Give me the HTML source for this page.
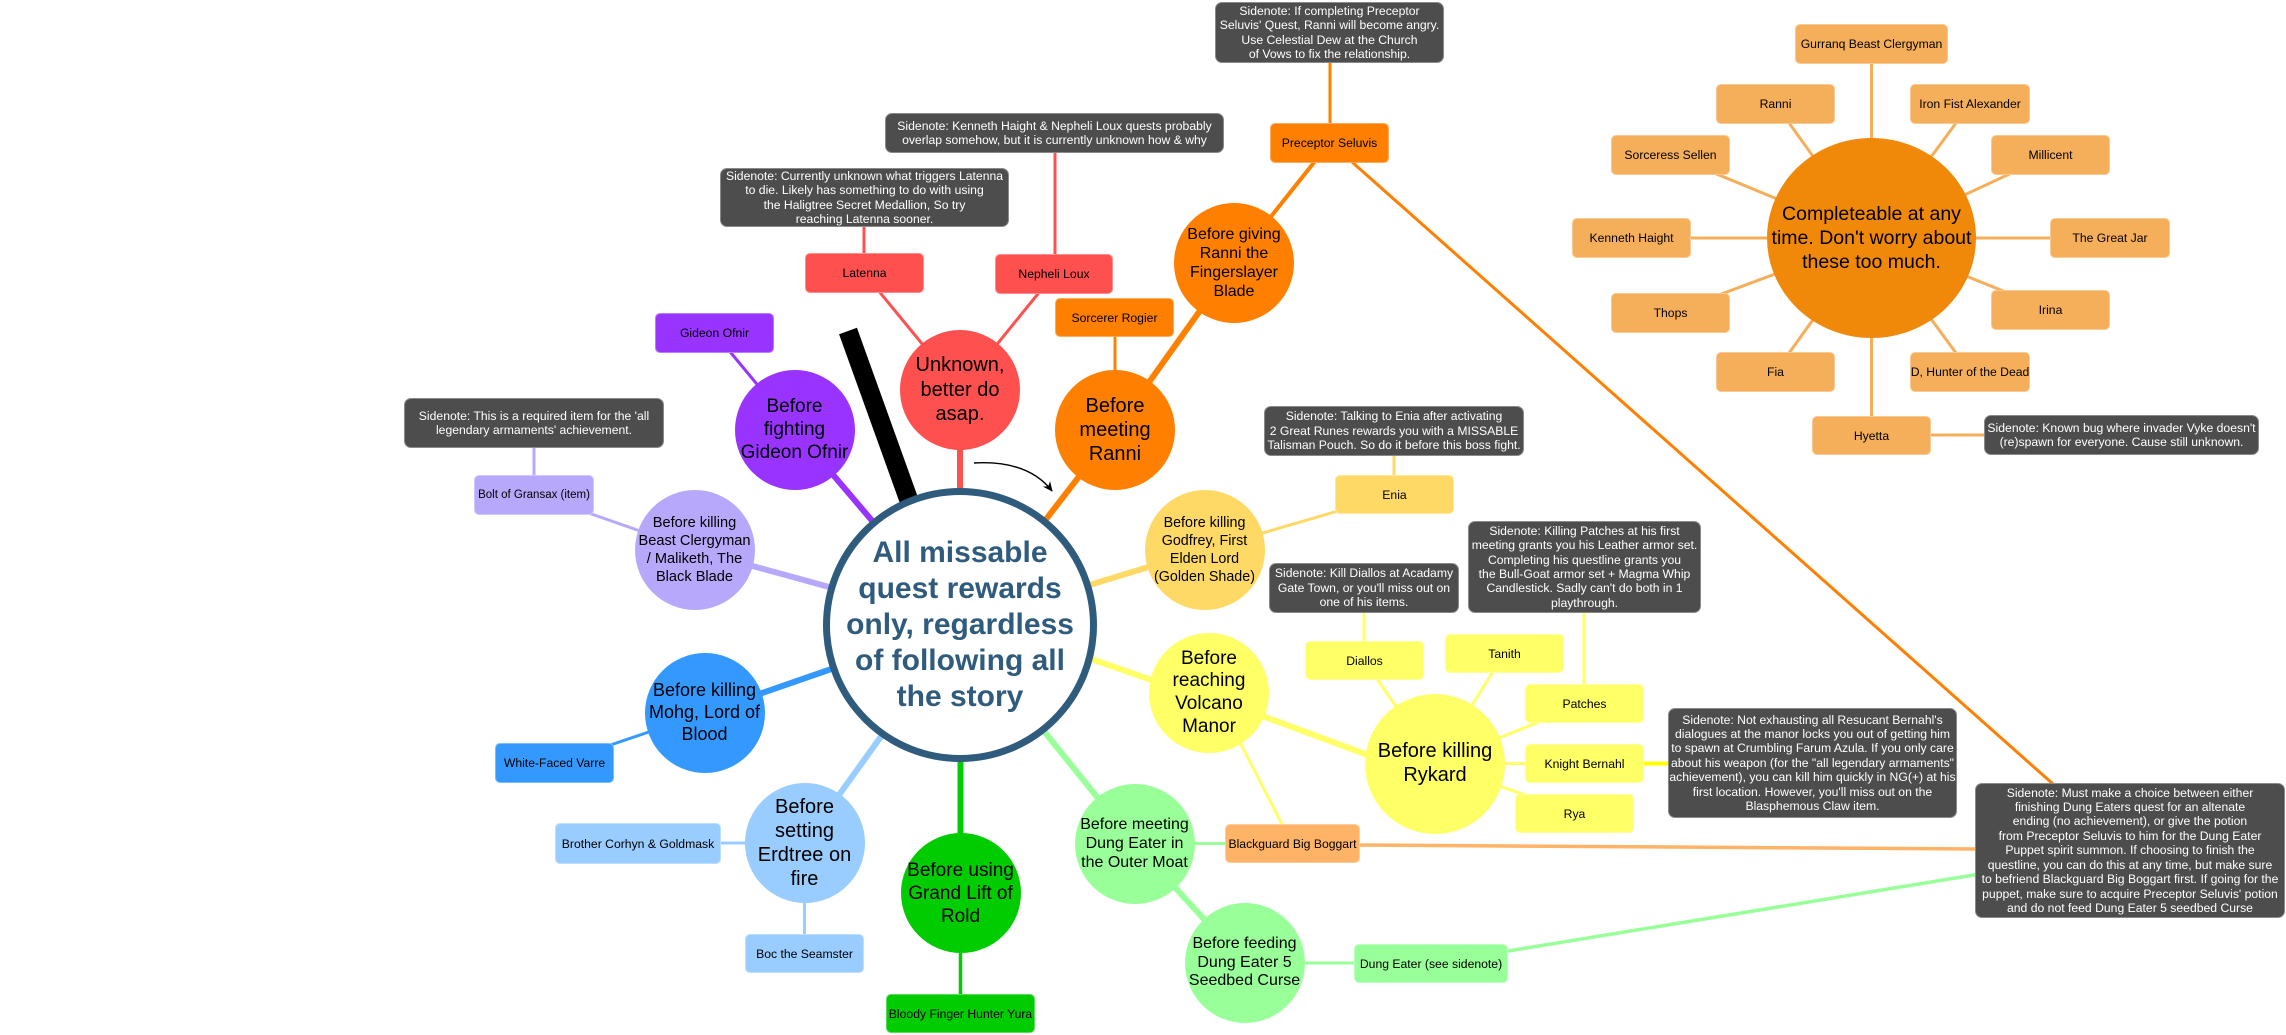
<!DOCTYPE html>
<html>
<head>
<meta charset="utf-8">
<style>
html,body{margin:0;padding:0;background:#fff;}
body{width:2286px;height:1035px;position:relative;overflow:hidden;font-family:"Liberation Sans",Arial,sans-serif;}
svg.lines{position:absolute;left:0;top:0;}
.c{position:absolute;border-radius:50%;display:flex;align-items:center;justify-content:center;text-align:center;color:#000;white-space:nowrap;box-sizing:border-box;}
.b{position:absolute;border-radius:5px;display:flex;align-items:center;justify-content:center;text-align:center;color:#000;font-size:12.2px;white-space:nowrap;box-sizing:border-box;border:1px solid rgba(255,255,255,0.35);}
.s{position:absolute;border-radius:7px;display:flex;align-items:center;justify-content:center;text-align:center;color:#fff;font-size:12.2px;line-height:14.4px;white-space:nowrap;background:#4d4d4d;border:1px solid #8a8a8a;box-sizing:border-box;}
.red{background:#ff5050;}
.org{background:#ff8000;}
.pur{background:#9933ff;}
.lav{background:#b8a8fc;}
.blu{background:#3399ff;}
.lbl{background:#99ccff;}
.grn{background:#00cc00;}
.lgr{background:#99ff99;}
.yel{background:#ffff66;}
.gld{background:#ffd966;}
.bog{background:#ffb366;}
.sat{background:#f5ae5a;}
</style>
</head>
<body>
<svg class="lines" width="2286" height="1035" viewBox="0 0 2286 1035">
<defs>
<marker id="ah" markerWidth="12" markerHeight="12" refX="9" refY="6" orient="auto" markerUnits="userSpaceOnUse">
<path d="M0,1.5 L10,6 L0,10.5 L3,6 z" fill="#000"/>
</marker>
</defs>
<g stroke-linecap="butt" fill="none">
<!-- red -->
<line x1="960" y1="390" x2="960" y2="500" stroke="#ff5050" stroke-width="6"/>
<line x1="864" y1="273" x2="960" y2="390" stroke="#ff5050" stroke-width="3"/>
<line x1="1054" y1="274" x2="960" y2="390" stroke="#ff5050" stroke-width="3"/>
<line x1="864" y1="227" x2="864" y2="253" stroke="#ff5050" stroke-width="3"/>
<line x1="1055" y1="153" x2="1055" y2="256" stroke="#ff5050" stroke-width="3"/>
<!-- orange -->
<line x1="1115" y1="430" x2="1030" y2="540" stroke="#ff8000" stroke-width="6"/>
<line x1="1115" y1="430" x2="1234" y2="263" stroke="#ff8000" stroke-width="6"/>
<line x1="1115" y1="330" x2="1115" y2="372" stroke="#ff8000" stroke-width="3"/>
<line x1="1234" y1="263" x2="1329.5" y2="143" stroke="#ff8000" stroke-width="4"/>
<line x1="1330" y1="63" x2="1330" y2="124" stroke="#ff8000" stroke-width="3"/>
<line x1="1352" y1="162" x2="2053" y2="784" stroke="#ff8000" stroke-width="3"/>
<!-- purple -->
<line x1="794.5" y1="429.5" x2="880" y2="530" stroke="#9933ff" stroke-width="6"/>
<line x1="714.5" y1="333" x2="794.5" y2="429.5" stroke="#9933ff" stroke-width="3"/>
<!-- lavender -->
<line x1="694.5" y1="550" x2="840" y2="590" stroke="#b8a8fc" stroke-width="6"/>
<line x1="580" y1="510" x2="694.5" y2="550" stroke="#b8a8fc" stroke-width="3"/>
<line x1="534" y1="448" x2="534" y2="476" stroke="#b8a8fc" stroke-width="3"/>
<!-- blue -->
<line x1="704.5" y1="713" x2="840" y2="666" stroke="#3399ff" stroke-width="6"/>
<line x1="590" y1="752" x2="704.5" y2="713" stroke="#3399ff" stroke-width="3"/>
<!-- light blue -->
<line x1="804.5" y1="843" x2="890" y2="724" stroke="#99ccff" stroke-width="6"/>
<line x1="715" y1="843" x2="750" y2="843" stroke="#99ccff" stroke-width="3"/>
<line x1="804.5" y1="895" x2="804.5" y2="935" stroke="#99ccff" stroke-width="3"/>
<!-- green -->
<line x1="960.5" y1="755" x2="960.5" y2="840" stroke="#00cc00" stroke-width="6"/>
<line x1="960.5" y1="950" x2="960.5" y2="995" stroke="#00cc00" stroke-width="3.5"/>
<!-- light green -->
<line x1="1035" y1="720" x2="1134.5" y2="843.5" stroke="#99ff99" stroke-width="6"/>
<line x1="1134.5" y1="843.5" x2="1244.5" y2="963" stroke="#99ff99" stroke-width="6"/>
<line x1="1190" y1="843.5" x2="1230" y2="843.5" stroke="#99ff99" stroke-width="3"/>
<line x1="1300" y1="963" x2="1358" y2="963" stroke="#99ff99" stroke-width="3"/>
<line x1="1505" y1="951.5" x2="1977" y2="874.5" stroke="#99ff99" stroke-width="3.5"/>
<!-- boggart orange -->
<line x1="1355" y1="845" x2="1977" y2="849" stroke="#ffb366" stroke-width="3.5"/>
<!-- gold -->
<line x1="1060" y1="594" x2="1204.5" y2="550" stroke="#ffd966" stroke-width="6"/>
<line x1="1204.5" y1="550" x2="1394.5" y2="494.5" stroke="#ffd966" stroke-width="3"/>
<line x1="1394" y1="455" x2="1394" y2="477" stroke="#ffd966" stroke-width="3"/>
<!-- yellow -->
<line x1="1060" y1="648" x2="1180" y2="690" stroke="#ffff66" stroke-width="6"/>
<line x1="1230" y1="704" x2="1400" y2="767" stroke="#ffff66" stroke-width="6"/>
<line x1="1230" y1="723" x2="1285" y2="830" stroke="#ffff66" stroke-width="3"/>
<line x1="1435" y1="763.5" x2="1364.5" y2="660.5" stroke="#ffff66" stroke-width="3"/>
<line x1="1435" y1="763.5" x2="1504.5" y2="653.5" stroke="#ffff66" stroke-width="3"/>
<line x1="1435" y1="763.5" x2="1540" y2="721.5" stroke="#ffff66" stroke-width="3"/>
<line x1="1435" y1="763.5" x2="1530" y2="763.5" stroke="#ffff66" stroke-width="3"/>
<line x1="1435" y1="763.5" x2="1525" y2="795" stroke="#ffff66" stroke-width="3"/>
<line x1="1364" y1="612" x2="1364" y2="642" stroke="#ffff66" stroke-width="3"/>
<line x1="1584" y1="612" x2="1584" y2="685" stroke="#ffff66" stroke-width="3"/>
<line x1="1642" y1="763.5" x2="1670" y2="763.5" stroke="#ffff00" stroke-width="4"/>
<!-- completeable satellites -->
<g stroke="#f5ae5a" stroke-width="3">
<line x1="1871.5" y1="238" x2="1871.5" y2="44"/>
<line x1="1871.5" y1="238" x2="1775.5" y2="104"/>
<line x1="1871.5" y1="238" x2="1970" y2="104"/>
<line x1="1871.5" y1="238" x2="1670.5" y2="155"/>
<line x1="1871.5" y1="238" x2="2050.5" y2="155"/>
<line x1="1871.5" y1="238" x2="1631.5" y2="238"/>
<line x1="1871.5" y1="238" x2="2110" y2="238"/>
<line x1="1871.5" y1="238" x2="1670.5" y2="313"/>
<line x1="1871.5" y1="238" x2="2050.5" y2="310"/>
<line x1="1871.5" y1="238" x2="1775.5" y2="372"/>
<line x1="1871.5" y1="238" x2="1970" y2="372"/>
<line x1="1871.5" y1="238" x2="1871.5" y2="435"/>
<line x1="1925" y1="435" x2="1990" y2="435"/>
</g>
<!-- black bar -->
<line x1="848" y1="331" x2="916" y2="520" stroke="#000" stroke-width="19"/>
<!-- arrow -->
<path d="M974,463 Q1028,460 1052,491" stroke="#000" stroke-width="1.4" fill="none" marker-end="url(#ah)"/>
</g>
</svg>

<!-- main circle -->
<div class="c" style="left:823px;top:487.5px;width:274px;height:274px;background:#fff;border:7px solid #2f5b7d;color:#2f5b7d;font-weight:bold;font-size:30px;line-height:36px;">All missable<br>quest rewards<br>only, regardless<br>of following all<br>the story</div>

<!-- branch circles -->
<div class="c red" style="left:900px;top:330px;width:120px;height:120px;font-size:20px;line-height:24.5px;">Unknown,<br>better do<br>asap.</div>
<div class="c org" style="left:1055px;top:370px;width:120px;height:120px;font-size:20px;line-height:24px;">Before<br>meeting<br>Ranni</div>
<div class="c org" style="left:1174px;top:203px;width:120px;height:120px;font-size:16px;line-height:19px;">Before giving<br>Ranni the<br>Fingerslayer<br>Blade</div>
<div class="c pur" style="left:734.5px;top:369.5px;width:120px;height:120px;font-size:19px;line-height:23px;">Before<br>fighting<br>Gideon Ofnir</div>
<div class="c lav" style="left:634.5px;top:490px;width:120px;height:120px;font-size:14.6px;line-height:18px;">Before killing<br>Beast Clergyman<br>/ Maliketh, The<br>Black Blade</div>
<div class="c blu" style="left:644.5px;top:653px;width:120px;height:120px;font-size:18px;line-height:21.7px;">Before killing<br>Mohg, Lord of<br>Blood</div>
<div class="c lbl" style="left:744.5px;top:783px;width:120px;height:120px;font-size:20px;line-height:24px;">Before<br>setting<br>Erdtree on<br>fire</div>
<div class="c grn" style="left:900.5px;top:833px;width:120px;height:120px;font-size:19px;line-height:23px;">Before using<br>Grand Lift of<br>Rold</div>
<div class="c lgr" style="left:1074.5px;top:783.5px;width:120px;height:120px;font-size:16px;line-height:19px;">Before meeting<br>Dung Eater in<br>the Outer Moat</div>
<div class="c lgr" style="left:1184.5px;top:903px;width:120px;height:120px;font-size:16px;line-height:18.5px;">Before feeding<br>Dung Eater 5<br>Seedbed Curse</div>
<div class="c gld" style="left:1144.5px;top:490px;width:120px;height:120px;font-size:14.3px;line-height:18px;">Before killing<br>Godfrey, First<br>Elden Lord<br>(Golden Shade)</div>
<div class="c yel" style="left:1149px;top:633px;width:120px;height:120px;font-size:19px;line-height:22.6px;">Before<br>reaching<br>Volcano<br>Manor</div>
<div class="c yel" style="left:1365px;top:693.5px;width:140px;height:140px;font-size:20px;line-height:23.5px;">Before killing<br>Rykard</div>
<div class="c" style="left:1767px;top:138px;width:209px;height:200px;background:#f0880a;font-size:19.5px;line-height:24px;">Completeable at any<br>time. Don't worry about<br>these too much.</div>

<!-- boxes -->
<div class="b pur" style="left:655px;top:313px;width:119px;height:40px;">Gideon Ofnir</div>
<div class="b lav" style="left:474px;top:475px;width:120px;height:40px;font-size:11.5px;">Bolt of Gransax (item)</div>
<div class="b blu" style="left:495px;top:743px;width:119px;height:40px;">White-Faced Varre</div>
<div class="b lbl" style="left:555px;top:823px;width:166px;height:41px;">Brother Corhyn &amp; Goldmask</div>
<div class="b lbl" style="left:745px;top:934px;width:119px;height:39px;">Boc the Seamster</div>
<div class="b grn" style="left:886px;top:994px;width:149px;height:39px;">Bloody Finger Hunter Yura</div>
<div class="b red" style="left:805px;top:253px;width:119px;height:40px;">Latenna</div>
<div class="b red" style="left:995px;top:254px;width:118px;height:40px;">Nepheli Loux</div>
<div class="b org" style="left:1055px;top:298px;width:119px;height:39px;">Sorcerer Rogier</div>
<div class="b org" style="left:1270px;top:123px;width:119px;height:40px;">Preceptor Seluvis</div>
<div class="b gld" style="left:1335px;top:475px;width:119px;height:39px;">Enia</div>
<div class="b yel" style="left:1305px;top:641px;width:119px;height:39px;">Diallos</div>
<div class="b yel" style="left:1445px;top:634px;width:119px;height:39px;">Tanith</div>
<div class="b yel" style="left:1525px;top:684px;width:119px;height:39px;">Patches</div>
<div class="b yel" style="left:1525px;top:744px;width:119px;height:39px;">Knight Bernahl</div>
<div class="b yel" style="left:1515px;top:794px;width:119px;height:39px;">Rya</div>
<div class="b bog" style="left:1225px;top:824px;width:135px;height:39px;">Blackguard Big Boggart</div>
<div class="b lgr" style="left:1354px;top:944px;width:154px;height:39px;">Dung Eater (see sidenote)</div>

<div class="b sat" style="left:1795px;top:24px;width:153px;height:40px;">Gurranq Beast Clergyman</div>
<div class="b sat" style="left:1716px;top:84px;width:119px;height:40px;">Ranni</div>
<div class="b sat" style="left:1910px;top:84px;width:120px;height:40px;">Iron Fist Alexander</div>
<div class="b sat" style="left:1611px;top:135px;width:119px;height:40px;">Sorceress Sellen</div>
<div class="b sat" style="left:1991px;top:135px;width:119px;height:40px;">Millicent</div>
<div class="b sat" style="left:1572px;top:218px;width:119px;height:40px;">Kenneth Haight</div>
<div class="b sat" style="left:2050px;top:218px;width:120px;height:40px;">The Great Jar</div>
<div class="b sat" style="left:1611px;top:293px;width:119px;height:40px;">Thops</div>
<div class="b sat" style="left:1991px;top:290px;width:119px;height:40px;">Irina</div>
<div class="b sat" style="left:1716px;top:352px;width:119px;height:40px;">Fia</div>
<div class="b sat" style="left:1910px;top:352px;width:120px;height:40px;">D, Hunter of the Dead</div>
<div class="b sat" style="left:1812px;top:416px;width:119px;height:39px;">Hyetta</div>

<!-- sidenotes -->
<div class="s" style="left:1215px;top:2px;width:229px;height:61px;">Sidenote: If completing Preceptor<br>Seluvis' Quest, Ranni will become angry.<br>Use Celestial Dew at the Church<br>of Vows to fix the relationship.</div>
<div class="s" style="left:885px;top:113px;width:339px;height:40px;">Sidenote: Kenneth Haight &amp; Nepheli Loux quests probably<br>overlap somehow, but it is currently unknown how &amp; why</div>
<div class="s" style="left:720px;top:168px;width:289px;height:59px;">Sidenote: Currently unknown what triggers Latenna<br>to die. Likely has something to do with using<br>the Haligtree Secret Medallion, So try<br>reaching Latenna sooner.</div>
<div class="s" style="left:404px;top:398px;width:260px;height:50px;">Sidenote: This is a required item for the 'all<br>legendary armaments' achievement.</div>
<div class="s" style="left:1264px;top:406px;width:260px;height:50px;">Sidenote: Talking to Enia after activating<br>2 Great Runes rewards you with a MISSABLE<br>Talisman Pouch. So do it before this boss fight.</div>
<div class="s" style="left:1269px;top:563px;width:190px;height:50px;">Sidenote: Kill Diallos at Acadamy<br>Gate Town, or you'll miss out on<br>one of his items.</div>
<div class="s" style="left:1468px;top:521px;width:233px;height:92px;">Sidenote: Killing Patches at his first<br>meeting grants you his Leather armor set.<br>Completing his questline grants you<br>the Bull-Goat armor set + Magma Whip<br>Candlestick. Sadly can't do both in 1<br>playthrough.</div>
<div class="s" style="left:1668px;top:708px;width:289px;height:110px;">Sidenote: Not exhausting all Resucant Bernahl's<br>dialogues at the manor locks you out of getting him<br>to spawn at Crumbling Farum Azula. If you only care<br>about his weapon (for the "all legendary armaments"<br>achievement), you can kill him quickly in NG(+) at his<br>first location. However, you'll miss out on the<br>Blasphemous Claw item.</div>
<div class="s" style="left:1975px;top:783px;width:310px;height:135px;">Sidenote: Must make a choice between either<br>finishing Dung Eaters quest for an altenate<br>ending (no achievement), or give the potion<br>from Preceptor Seluvis to him for the Dung Eater<br>Puppet spirit summon. If choosing to finish the<br>questline, you can do this at any time, but make sure<br>to befriend Blackguard Big Boggart first. If going for the<br>puppet, make sure to acquire Preceptor Seluvis' potion<br>and do not feed Dung Eater 5 seedbed Curse</div>
<div class="s" style="left:1984px;top:415px;width:275px;height:40px;">Sidenote: Known bug where invader Vyke doesn't<br>(re)spawn for everyone. Cause still unknown.</div>
</body>
</html>
